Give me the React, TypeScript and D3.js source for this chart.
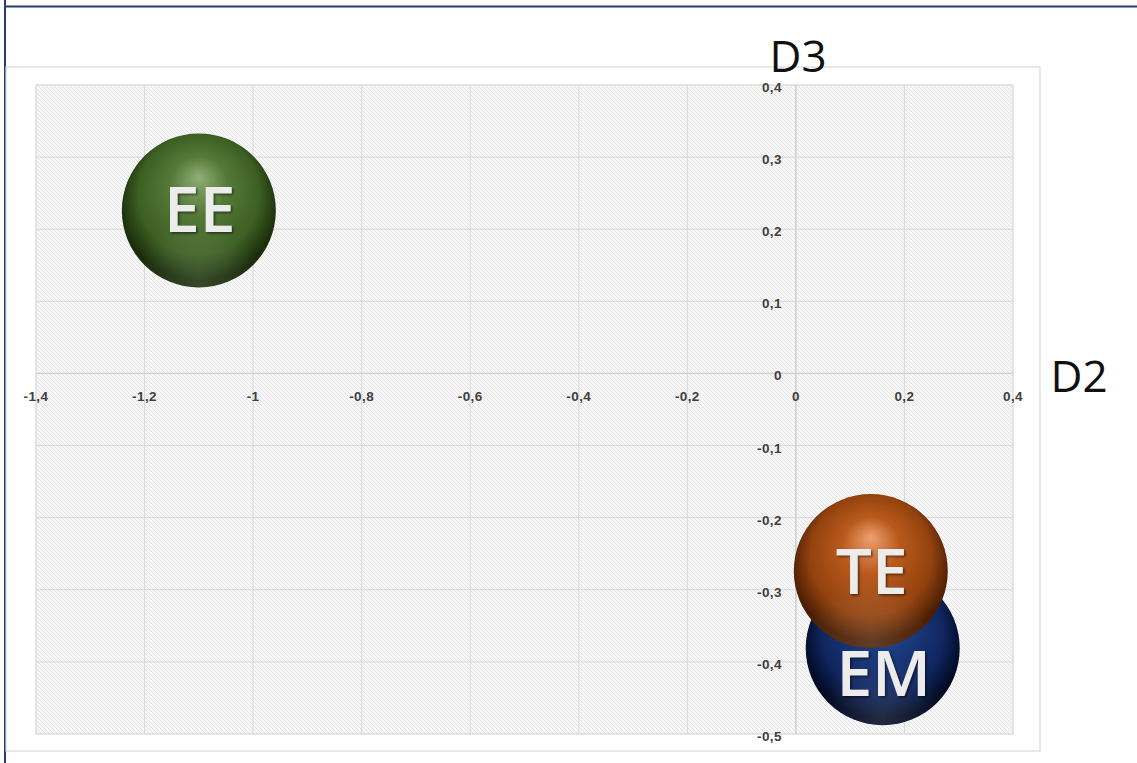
import React from "react";
import * as d3 from "d3";

// Bubble series: D2 (x) vs D3 (y) coordinates and bubble size
const labels = ["EE", "EM", "TE"];
const d2Values = [-1.1, 0.16, 0.138];
const d3Values = [0.226, -0.381, -0.274];
const sizes = [1, 1, 1];

const xTicks = [-1.4, -1.2, -1, -0.8, -0.6, -0.4, -0.2, 0, 0.2, 0.4];
const yTicks = [-0.5, -0.4, -0.3, -0.2, -0.1, 0, 0.1, 0.2, 0.3, 0.4];

// sphere palettes: highlight, body, shade, rim
const palettes: Record<string, string[]> = {
  EE: ["#8fae76", "#557a38", "#3c5f22", "#1a2d0a"],
  EM: ["#4a6cb0", "#1c3b80", "#102660", "#020a24"],
  TE: ["#eea070", "#b95a1c", "#93420e", "#4a1f04"],
};
// label nudges (px) applied on top of bubble centre
const labelShift: Record<string, number> = { EE: -2, EM: 25, TE: 0 };

const W = 1137;
const H = 763;
const plot = { left: 36, right: 1013, top: 85, bottom: 734 };

const fmt = (v: number) => String(+v.toFixed(1)).replace(".", ",");

export default function App() {
  const x = d3.scaleLinear().domain([-1.4, 0.4]).range([plot.left, plot.right]);
  const y = d3.scaleLinear().domain([-0.5, 0.4]).range([plot.bottom, plot.top]);
  const r = d3.scaleSqrt().domain([0, d3.max(sizes) as number]).range([0, 77]);

  const order = [0, 1, 2];
  const labelFont = "'Open Sans', 'Liberation Sans', sans-serif";

  return (
    <svg
      width={W}
      height={H}
      style={{ position: "absolute", left: 0, top: 0, background: "#fff" }}
    >
      <defs>
        <pattern id="hatch" width="4" height="4" patternUnits="userSpaceOnUse">
          <rect width="4" height="4" fill="#f7f7f7" />
          <path d="M-1,-1 L5,5 M-1,3 L1,5 M3,-1 L5,1" stroke="#e4e4e4" strokeWidth="1" />
        </pattern>
        {labels.map((l) => {
          const p = palettes[l];
          return (
            <radialGradient key={l} id={`g-${l}`} cx="50%" cy="45%" r="58%" fx="50%" fy="28%">
              <stop offset="0%" stopColor={p[0]} />
              <stop offset="32%" stopColor={p[1]} />
              <stop offset="68%" stopColor={p[2]} />
              <stop offset="90%" stopColor={p[3]} />
              <stop offset="100%" stopColor={p[3]} />
            </radialGradient>
          );
        })}
        <radialGradient id="bottomGlow" cx="50%" cy="96%" r="42%">
          <stop offset="0%" stopColor="#ffffff" stopOpacity="0.13" />
          <stop offset="100%" stopColor="#ffffff" stopOpacity="0" />
        </radialGradient>
        <filter id="txtShadow" x="-20%" y="-20%" width="140%" height="140%">
          <feDropShadow dx="1.5" dy="1.5" stdDeviation="1.2" floodColor="#000" floodOpacity="0.55" />
        </filter>
      </defs>

      {/* outer frame */}
      <line x1={5} y1={0} x2={5} y2={H} stroke="#243f6e" strokeWidth={2} />
      <line x1={4} y1={6.5} x2={W} y2={6.5} stroke="#243f6e" strokeWidth={2} />

      {/* chart area */}
      <rect x={6} y={67} width={1034} height={684} fill="#fff" stroke="#d9d9d9" strokeWidth={1.2} />

      {/* plot area */}
      <rect
        x={plot.left}
        y={plot.top}
        width={plot.right - plot.left}
        height={plot.bottom - plot.top}
        fill="url(#hatch)"
        stroke="#e3e3e3"
      />

      {/* gridlines */}
      {xTicks.map((t) => (
        <line key={`vx${t}`} x1={x(t)} x2={x(t)} y1={plot.top} y2={plot.bottom} stroke="#d9d9d9" strokeWidth={1} />
      ))}
      {yTicks.map((t) => (
        <line key={`hy${t}`} x1={plot.left} x2={plot.right} y1={y(t)} y2={y(t)} stroke="#d9d9d9" strokeWidth={1} />
      ))}
      {/* zero axes */}
      <line x1={x(0)} x2={x(0)} y1={plot.top} y2={plot.bottom} stroke="#cfcfcf" strokeWidth={1.2} />
      <line x1={plot.left} x2={plot.right} y1={y(0)} y2={y(0)} stroke="#cfcfcf" strokeWidth={1.2} />

      {/* tick labels */}
      <g
        fontFamily="'Liberation Sans', Arial, sans-serif"
        fontSize={13.5}
        fontWeight="bold"
        fill="#404040"
        letterSpacing={0.4}
      >
        {xTicks.map((t) => (
          <text key={`tx${t}`} x={x(t)} y={y(0) + 28} textAnchor="middle">
            {fmt(t)}
          </text>
        ))}
        {yTicks.map((t) => (
          <text key={`ty${t}`} x={x(0) - 14} y={y(t) + 7} textAnchor="end">
            {fmt(t)}
          </text>
        ))}
      </g>

      {/* axis titles */}
      <text x={798} y={72} textAnchor="middle" fontFamily={labelFont} fontSize={44} fill="#111">
        D3
      </text>
      <text x={1079} y={392} textAnchor="middle" fontFamily={labelFont} fontSize={44} fill="#111">
        D2
      </text>

      {/* bubbles */}
      {order.map((i) => {
        const l = labels[i];
        const cx = x(d2Values[i]);
        const cy = y(d3Values[i]);
        const rad = r(sizes[i]);
        return (
          <g key={l}>
            <circle cx={cx} cy={cy} r={rad} fill={`url(#g-${l})`} />
            <circle cx={cx} cy={cy} r={rad} fill="url(#bottomGlow)" />
          </g>
        );
      })}
      {order.map((i) => {
        const l = labels[i];
        const cx = x(d2Values[i]);
        const cy = y(d3Values[i]) + labelShift[l];
        return (
          <text
            key={`lab-${l}`}
            x={cx + 1}
            y={cy}
            dy="0.36em"
            textAnchor="middle"
            fontFamily={labelFont}
            fontWeight={600}
            fontSize={64}
            fill="#ececec"
            filter="url(#txtShadow)"
          >
            {l}
          </text>
        );
      })}
    </svg>
  );
}
